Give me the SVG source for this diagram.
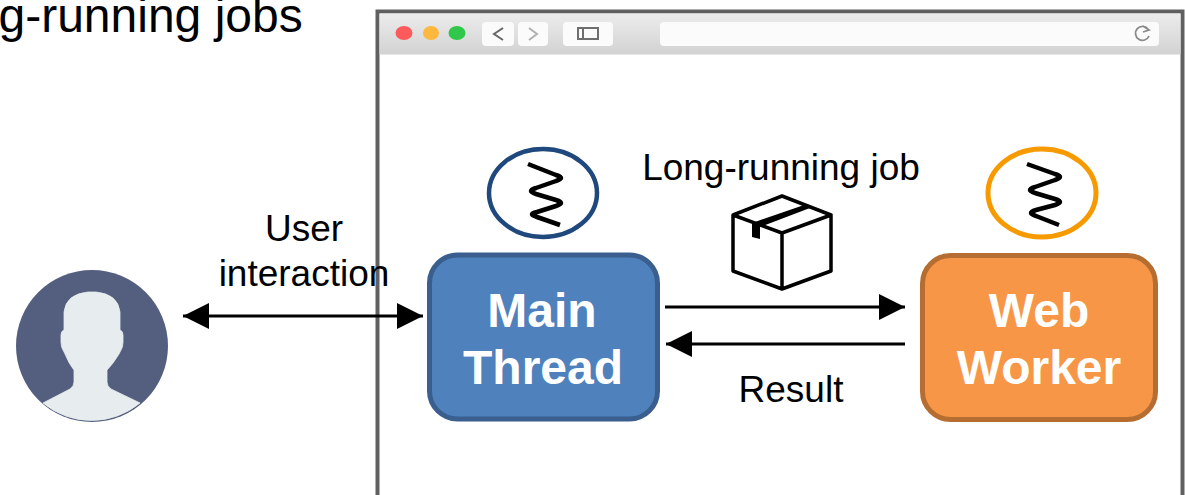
<svg xmlns="http://www.w3.org/2000/svg" width="1185" height="495" viewBox="0 0 1185 495">
<style>
text{font-family:"Liberation Sans",Arial,sans-serif;fill:#000}
.lbl{font-size:37px;text-anchor:middle}
.nm{font-size:48px;font-weight:bold;fill:#fff;text-anchor:middle}
.cn{stroke:#000;stroke-width:3;fill:none}
.sp{stroke:#000;stroke-width:4.500;fill:none;stroke-linejoin:round}
.btn{fill:#fbfbfb}
.ic{fill:none;stroke:#6e6e6e;stroke-width:2}
.bx{fill:none;stroke:#000;stroke-width:3.500;stroke-linejoin:round}
</style>
<defs>
<linearGradient id="bar" x1="0" y1="0" x2="0" y2="1"><stop offset="0" stop-color="#ececec"/><stop offset="1" stop-color="#d2d2d2"/></linearGradient>
<marker id="ah" markerUnits="userSpaceOnUse" markerWidth="27" markerHeight="27" refX="26" refY="13" orient="auto-start-reverse"><path d="M0 0L26 13L0 26Z" fill="#000"/></marker>
</defs>
<rect width="1185" height="495" fill="#fff"/>
<text x="-1.500" y="32" font-size="48">g-running jobs</text>
<g id="browser">
<path d="M377.500 495V11.500H1182.500V495" fill="#fff" stroke="#606060" stroke-width="4"/>
<rect x="379.500" y="13.500" width="801" height="41" fill="url(#bar)"/>
<ellipse cx="404" cy="33" rx="8.500" ry="7" fill="#fd5b5b"/>
<ellipse cx="431" cy="33" rx="8" ry="7" fill="#fdb83d"/>
<ellipse cx="457" cy="33" rx="8.500" ry="7" fill="#2fc84a"/>
<rect x="482" y="22" width="32" height="24" rx="4" class="btn"/>
<rect x="518" y="22" width="30" height="24" rx="4" class="btn"/>
<path d="M503 28L494 34L503 40" fill="none" stroke="#666" stroke-width="2"/>
<path d="M529 28L537 34L529 40" fill="none" stroke="#b0b0b0" stroke-width="2"/>
<rect x="563" y="22" width="50" height="24" rx="4" class="btn"/>
<rect x="578" y="28" width="20" height="11" class="ic"/><path d="M583 28V39" class="ic"/>
<rect x="660" y="22" width="499" height="24" rx="4" class="btn"/>
<path d="M1148 29A7 7 0 1 0 1149 36M1143 26L1149 30L1143 32" fill="none" stroke="#8a8a8a" stroke-width="1.800"/>
</g>
<g id="connectors">
<path d="M183 316H423" class="cn" marker-start="url(#ah)" marker-end="url(#ah)"/>
<path d="M665 307H905" class="cn" marker-end="url(#ah)"/>
<path d="M905 344H666" class="cn" marker-end="url(#ah)"/>
</g>
<g id="user">
<circle cx="92" cy="346" r="76" fill="#545e7f"/>
<path d="M43 403L70 389Q74 386 74 382V370Q69 364 65 354L63 350Q61 347 61 342V335Q61 331 64 330V312Q66 294 88 292H96Q118 294 120 312V330Q123 331 123 335V342Q123 347 121 350L119 354Q113 364 107 370V382Q107 386 111 389L140 403A76 76 0 0 1 43 403Z" fill="#e7edee" stroke="#e7edee" stroke-width="0.800"/>
</g>
<g id="user-label">
<text x="304" y="241" class="lbl">User</text>
<text x="304" y="286" class="lbl">interaction</text>
</g>
<g id="main-thread">
<rect x="429.500" y="255" width="228" height="164" rx="28" fill="#4f81bd" stroke="#3a5f8f" stroke-width="5"/>
<text x="542" y="327" class="nm">Main</text>
<text x="543" y="384" class="nm">Thread</text>
</g>
<g id="main-thread-icon">
<ellipse cx="543" cy="193" rx="54" ry="44" fill="#fff" stroke="#1f497d" stroke-width="4.500"/>
<path d="M528 164L556 175Q566 178 556 181L536 188Q526 191 536 194L556 200Q566 203 556 206L537 212Q527 214 537 217L560 225" class="sp"/>
</g>
<g id="job-label"><text x="781" y="180" class="lbl">Long-running job</text></g>
<g id="box">
<path d="M733 215L782 233V289L733 271ZM733 215L782 196L831 215L782 233M831 215V271L782 289" class="bx"/>
<path d="M752 223L807 204L810 208L760 227V239L752 237Z" fill="#000"/>
</g>
<g id="web-worker">
<rect x="922.500" y="255.500" width="233" height="164" rx="28" fill="#f79646" stroke="#b66d31" stroke-width="5"/>
<text x="1039" y="327" class="nm">Web</text>
<text x="1039" y="384" class="nm">Worker</text>
</g>
<g id="web-worker-icon">
<ellipse cx="1042" cy="193" rx="54" ry="44" fill="#fff" stroke="#f79a00" stroke-width="5"/>
<path d="M1027 164L1055 174Q1065 177 1055 180L1035 187Q1025 190 1035 193L1055 199Q1065 202 1055 205L1036 210Q1026 213 1036 216L1059 225" class="sp"/>
</g>
<g id="result-label"><text x="791" y="402" class="lbl">Result</text></g>
</svg>
